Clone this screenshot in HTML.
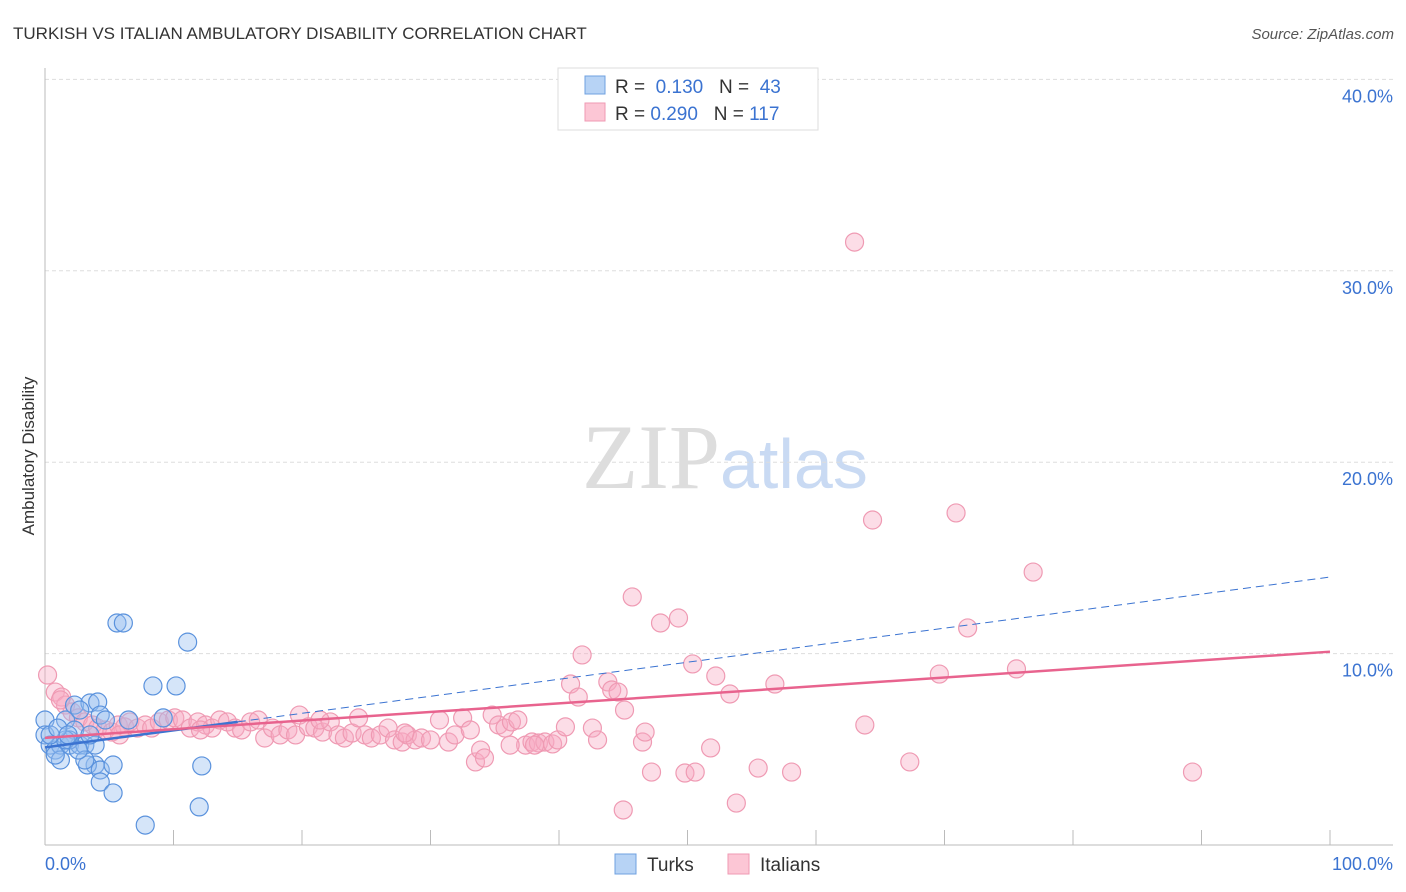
<!DOCTYPE html>
<html><head><meta charset="utf-8">
<style>
body{margin:0;background:#fff;font-family:"Liberation Sans",sans-serif;}
svg{display:block}
</style></head><body>
<svg id="chart" width="1406" height="892" xmlns="http://www.w3.org/2000/svg">
<text x="13" y="39" font-size="17" fill="#333">TURKISH VS ITALIAN AMBULATORY DISABILITY CORRELATION CHART</text>
<text x="1394" y="39" font-size="15" fill="#555" text-anchor="end" font-style="italic">Source: ZipAtlas.com</text>
<text x="720" y="488" font-size="92" text-anchor="end" fill="#ddd" font-family="Liberation Serif, serif">ZIP</text>
<text x="720" y="488" font-size="70" fill="#c9daf3">atlas</text>
<text transform="translate(34,456) rotate(-90)" font-size="17" fill="#333" text-anchor="middle">Ambulatory Disability</text>
<g id="grid"></g><g id="pts"></g><g id="lines"></g>
<g>
<rect x="558" y="68" width="260" height="62" fill="#fff" stroke="#ddd"/>
<rect x="585" y="76" width="20" height="18" fill="#b7d3f5" stroke="#6fa0e0"/>
<rect x="585" y="103" width="20" height="18" fill="#fcc6d5" stroke="#ef9ab3"/>
<text x="615" y="93" font-size="19" fill="#333">R = <tspan fill="#3b73d1">&#160;0.130</tspan>&#160;&#160;&#160;N = <tspan fill="#3b73d1">&#160;43</tspan></text>
<text x="615" y="120" font-size="19" fill="#333">R = <tspan fill="#3b73d1">0.290</tspan>&#160;&#160;&#160;N = <tspan fill="#3b73d1">117</tspan></text>
</g>
<g>
<rect x="615" y="854" width="21" height="20" fill="#b7d3f5" stroke="#6fa0e0"/>
<text x="647" y="871" font-size="19" fill="#333">Turks</text>
<rect x="728" y="854" width="21" height="20" fill="#fcc6d5" stroke="#ef9ab3"/>
<text x="760" y="871" font-size="19" fill="#333">Italians</text>
</g>
<text x="45" y="870" font-size="18" fill="#3b73d1">0.0%</text>
<text x="1393" y="870" font-size="18" fill="#3b73d1" text-anchor="end">100.0%</text>
</svg>
<script>
const yTicks=[10,20,30,40];
const yTickLabels=["10.0%","20.0%","30.0%","40.0%"];
const xTicks=[0,10,20,30,40,50,60,70,80,90,100];
const turksX=[0,0,0.4,0.8,1.2,1.6,1.9,2.3,2.7,3.1,3.5,3.9,4.1,4.3,3.9,3.3,4.3,4.3,5.3,5.3,5.6,6.1,8.4,10.2,11.1,9.2,6.5,7.8,12.0,12.2,2.3,1.9,1.2,0.8,3.1,1.6,2.7,3.5,4.7,0.4,1.0,1.8,2.6];
const turksY=[6.53,5.75,5.22,4.96,5.22,6.53,5.22,7.31,5.22,5.22,7.42,5.22,7.47,6.79,4.18,4.18,3.92,3.29,4.18,2.72,11.6,11.6,8.31,8.31,10.6,6.64,6.53,1.04,1.99,4.13,6.0,5.49,4.44,4.7,4.44,5.49,7.05,5.75,6.53,5.75,6.11,5.75,4.96];
const italX=[0.2,0.8,1.3,1.6,2.1,2.6,3.1,3.7,4.1,4.7,5.2,5.7,6.2,6.6,7.2,7.8,8.3,8.9,9.6,10.1,10.7,11.3,11.9,12.5,13.0,13.6,14.2,14.8,15.3,16.0,16.6,17.1,17.7,18.3,18.9,19.5,19.8,20.5,21.0,21.6,22.2,22.8,23.3,23.9,24.4,24.9,25.4,26.1,26.7,27.2,27.8,28.2,28.8,29.3,30.0,30.7,31.4,31.9,32.5,33.1,33.5,33.9,34.2,34.8,35.3,35.8,36.3,36.8,37.4,37.9,38.4,38.9,39.5,39.9,40.5,40.9,41.5,41.8,42.6,43.0,43.8,44.1,44.6,45.1,45.7,46.5,46.7,47.2,47.9,49.3,49.8,50.4,50.6,51.8,52.2,53.3,53.8,55.5,56.8,58.1,63.0,63.8,64.4,67.3,69.6,70.9,71.8,75.6,76.9,89.3,45.0,1.2,5.8,12.1,21.4,28.0,36.2,38.1];
const italY=[8.88,7.99,7.73,7.31,6.95,6.64,6.43,6.27,6.11,6.01,5.9,6.27,6.17,6.43,6.11,6.27,6.11,6.43,6.53,6.64,6.53,6.11,6.43,6.27,6.11,6.53,6.43,6.11,6.01,6.43,6.53,5.59,6.11,5.75,6.01,5.75,6.79,6.17,6.11,5.9,6.43,5.75,5.59,5.85,6.64,5.75,5.59,5.75,6.11,5.49,5.38,5.75,5.49,5.59,5.49,6.53,5.38,5.75,6.64,6.01,4.34,4.96,4.55,6.79,6.27,6.11,6.43,6.53,5.22,5.38,5.33,5.38,5.28,5.49,6.17,8.41,7.73,9.93,6.11,5.49,8.52,8.1,7.99,7.05,12.96,5.38,5.9,3.81,11.6,11.86,3.76,9.46,3.81,5.07,8.83,7.89,2.19,4.02,8.41,3.81,31.5,6.27,16.98,4.34,8.93,17.35,11.34,9.2,14.26,3.81,1.83,7.58,5.75,6.01,6.53,5.85,5.22,5.22];
const turksTrend=[5.1,14.0];
const italTrend=[5.6,10.1];
const NS="http://www.w3.org/2000/svg";
const X=v=>45+12.85*v, Y=v=>845-19.14*v;
function mk(t,a,p){const e=document.createElementNS(NS,t);for(const k in a)e.setAttribute(k,a[k]);p.appendChild(e);return e;}
const g=document.getElementById('grid');
yTicks.forEach((t,i)=>{
 const l=mk('line',{x1:45,x2:1393,y1:Y(t),y2:Y(t),stroke:'#ddd','stroke-dasharray':'4,3'},g);
 
 
 const tx=mk('text',{x:1393,y:Y(t)+23,'font-size':18,fill:'#3b73d1','text-anchor':'end'},g);
 tx.textContent=yTickLabels[i];
 
 
});
const ax=mk('line',{x1:45,x2:1393,y1:845,y2:845,stroke:'#bbb'},g);


const ay=mk('line',{x1:45,x2:45,y1:68,y2:845,stroke:'#bbb'},g);


xTicks.forEach(t=>{const l=mk('line',{x1:X(t),x2:X(t),y1:830,y2:845,stroke:'#bbb'},g);
 
 });
const p=document.getElementById('pts');
italX.forEach((x,i)=>{const c=mk('circle',{cx:X(x),cy:Y(italY[i]),r:9,fill:'rgba(248,170,195,0.4)',stroke:'#ef9ab3','stroke-width':1.2},p);
 
 });
turksX.forEach((x,i)=>{const c=mk('circle',{cx:X(x),cy:Y(turksY[i]),r:9,fill:'rgba(150,190,240,0.4)',stroke:'#5a92dd','stroke-width':1.2},p);
 
 });
const L=document.getElementById('lines');
const tv=x=>turksTrend[0]+(turksTrend[1]-turksTrend[0])*x/100;
const l1=mk('line',{x1:X(0),y1:Y(tv(0)),x2:X(15),y2:Y(tv(15)),stroke:'#3b73d1','stroke-width':2.5},L);


const l2=mk('line',{x1:X(15),y1:Y(tv(15)),x2:X(100),y2:Y(tv(100)),stroke:'#3b73d1','stroke-width':1,'stroke-dasharray':'8,5'},L);


const l3=mk('line',{x1:X(0),y1:Y(italTrend[0]),x2:X(100),y2:Y(italTrend[1]),stroke:'#e8638e','stroke-width':2.5},L);


</script>
</body></html>
